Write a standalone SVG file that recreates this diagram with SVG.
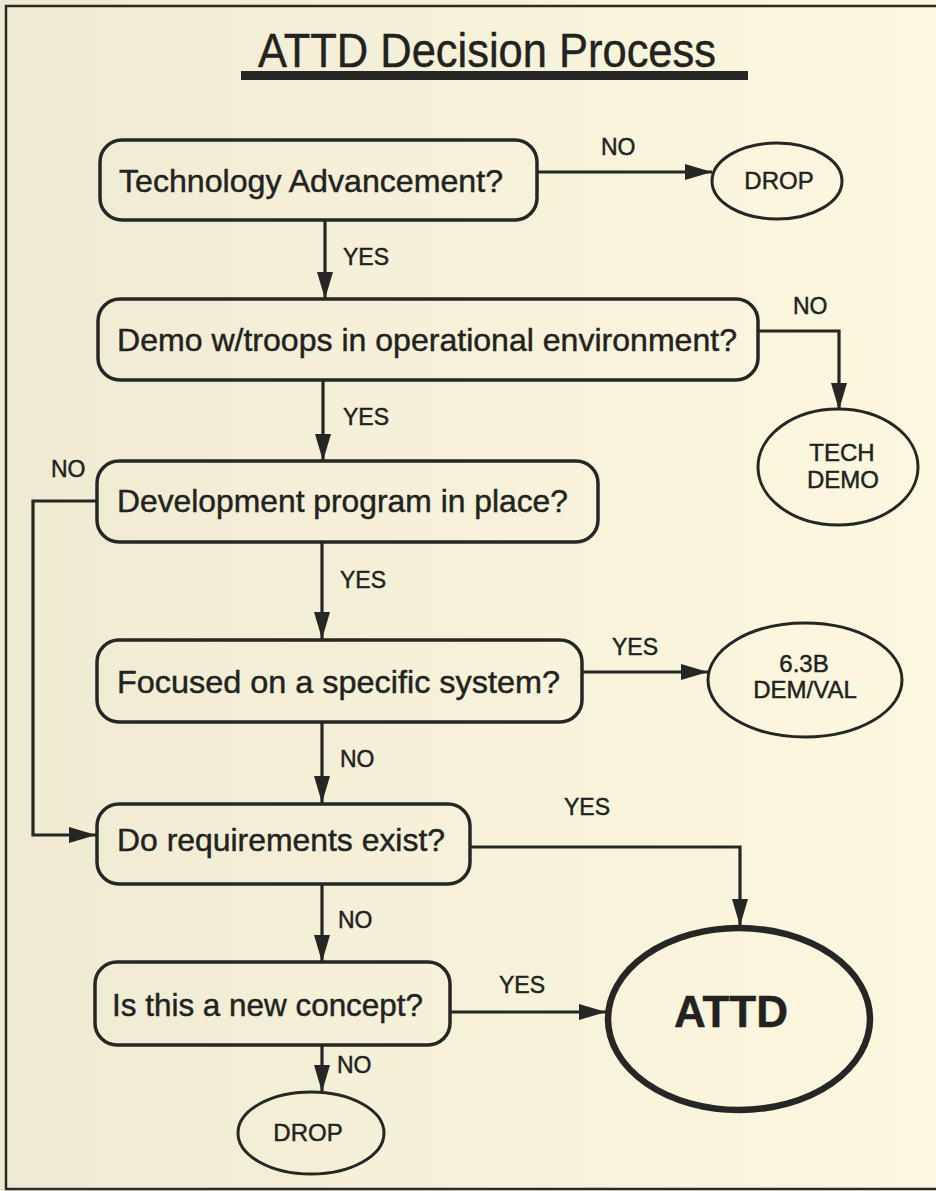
<svg xmlns="http://www.w3.org/2000/svg" width="936" height="1191" viewBox="0 0 936 1191">
  <defs>
    <linearGradient id="paper" x1="0" y1="0" x2="1" y2="0">
      <stop offset="0" stop-color="#efebd3"/>
      <stop offset="0.5" stop-color="#f6f2d9"/>
      <stop offset="1" stop-color="#fbf8df"/>
    </linearGradient>
    <marker id="arrow" markerUnits="userSpaceOnUse" markerWidth="28" markerHeight="18" refX="27" refY="8" orient="auto">
      <path d="M0,0 L27,8 L0,16 Z" fill="#262624"/>
    </marker>
    <style>
      .box { fill: none; stroke: #262624; stroke-width: 3.5; }
      .oval { fill: none; stroke: #262624; stroke-width: 3; }
      .conn { fill: none; stroke: #262624; stroke-width: 3.2; }
      text { stroke: #222220; stroke-width: 0.45; }
      .q { font-family: "Liberation Sans", Arial, sans-serif; font-size: 32px; fill: #222220; }
      .lbl { font-family: "Liberation Sans", Arial, sans-serif; font-size: 23px; fill: #222220; }
      .end { font-family: "Liberation Sans", Arial, sans-serif; font-size: 24px; fill: #222220; text-anchor: middle; }
    </style>
  </defs>

  <!-- page -->
  <rect x="0" y="0" width="936" height="1191" fill="url(#paper)"/>
  <path d="M940,6 H6 V1189 H940" fill="none" stroke="#2a2a28" stroke-width="2.5"/>

  <!-- heading -->
  <g id="title">
    <text x="487" y="67" font-family="Liberation Sans, Arial, sans-serif" font-size="48" fill="#222220" text-anchor="middle" textLength="458" lengthAdjust="spacingAndGlyphs">ATTD Decision Process</text>
    <rect x="241" y="71" width="507" height="9" fill="#262624"/>
  </g>

  <!-- connectors -->
  <g id="connectors">
    <path class="conn" d="M537,172 H712" marker-end="url(#arrow)"/>
    <path class="conn" d="M325,220 V299" marker-end="url(#arrow)"/>
    <path class="conn" d="M758,331 H839 V410" marker-end="url(#arrow)"/>
    <path class="conn" d="M323,380 V461" marker-end="url(#arrow)"/>
    <path class="conn" d="M97,501 H33 V835 H96" marker-end="url(#arrow)"/>
    <path class="conn" d="M322,542 V639" marker-end="url(#arrow)"/>
    <path class="conn" d="M582,672 H708" marker-end="url(#arrow)"/>
    <path class="conn" d="M322,722 V803" marker-end="url(#arrow)"/>
    <path class="conn" d="M470,847 H740 V926" marker-end="url(#arrow)"/>
    <path class="conn" d="M322,884 V962" marker-end="url(#arrow)"/>
    <path class="conn" d="M450,1012 H606" marker-end="url(#arrow)"/>
    <path class="conn" d="M322,1045 V1092" marker-end="url(#arrow)"/>

    <text class="lbl" x="601" y="155">NO</text>
    <text class="lbl" x="343" y="265">YES</text>
    <text class="lbl" x="793" y="314">NO</text>
    <text class="lbl" x="343" y="425">YES</text>
    <text class="lbl" x="51" y="477">NO</text>
    <text class="lbl" x="340" y="588">YES</text>
    <text class="lbl" x="612" y="655">YES</text>
    <text class="lbl" x="340" y="767">NO</text>
    <text class="lbl" x="564" y="815">YES</text>
    <text class="lbl" x="338" y="928">NO</text>
    <text class="lbl" x="499" y="993">YES</text>
    <text class="lbl" x="337" y="1073">NO</text>
  </g>

  <!-- decisions -->
  <g id="q-tech-advancement">
    <rect class="box" x="100" y="140" width="437" height="80" rx="22"/>
    <text class="q" x="119" y="192" textLength="384" lengthAdjust="spacingAndGlyphs">Technology Advancement?</text>
  </g>
  <g id="q-demo-troops">
    <rect class="box" x="98" y="299" width="660" height="81" rx="22"/>
    <text class="q" x="117" y="351" textLength="620" lengthAdjust="spacingAndGlyphs">Demo w/troops in operational environment?</text>
  </g>
  <g id="q-dev-program">
    <rect class="box" x="97" y="461" width="501" height="81" rx="22"/>
    <text class="q" x="117" y="512" textLength="451" lengthAdjust="spacingAndGlyphs">Development program in place?</text>
  </g>
  <g id="q-specific-system">
    <rect class="box" x="97" y="640" width="485" height="82" rx="22"/>
    <text class="q" x="117" y="693" textLength="443" lengthAdjust="spacingAndGlyphs">Focused on a specific system?</text>
  </g>
  <g id="q-requirements">
    <rect class="box" x="97" y="804" width="373" height="80" rx="22"/>
    <text class="q" x="117" y="851" textLength="328" lengthAdjust="spacingAndGlyphs">Do requirements exist?</text>
  </g>
  <g id="q-new-concept">
    <rect class="box" x="95" y="962" width="355" height="83" rx="22"/>
    <text class="q" x="112" y="1016" textLength="311" lengthAdjust="spacingAndGlyphs">Is this a new concept?</text>
  </g>

  <!-- outcomes -->
  <g id="drop-top">
    <ellipse class="oval" cx="777" cy="181" rx="65" ry="38"/>
    <text class="end" x="779" y="189">DROP</text>
  </g>
  <g id="tech-demo">
    <ellipse class="oval" cx="838" cy="467" rx="80" ry="58"/>
    <text class="end" x="842" y="461" font-size="25">TECH</text>
    <text class="end" x="843" y="488" font-size="25">DEMO</text>
  </g>
  <g id="dem-val">
    <ellipse class="oval" cx="805" cy="680" rx="97" ry="57"/>
    <text class="end" x="804" y="672" font-size="23">6.3B</text>
    <text class="end" x="805" y="698" font-size="23">DEM/VAL</text>
  </g>
  <g id="attd">
    <ellipse cx="739" cy="1019" rx="131" ry="91" fill="none" stroke="#262624" stroke-width="6.5"/>
    <text x="731" y="1027" font-family="Liberation Sans, Arial, sans-serif" font-size="44" font-weight="bold" fill="#222220" text-anchor="middle">ATTD</text>
  </g>
  <g id="drop-bottom">
    <ellipse class="oval" cx="311" cy="1133" rx="73" ry="41"/>
    <text class="end" x="308" y="1141">DROP</text>
  </g>
</svg>
